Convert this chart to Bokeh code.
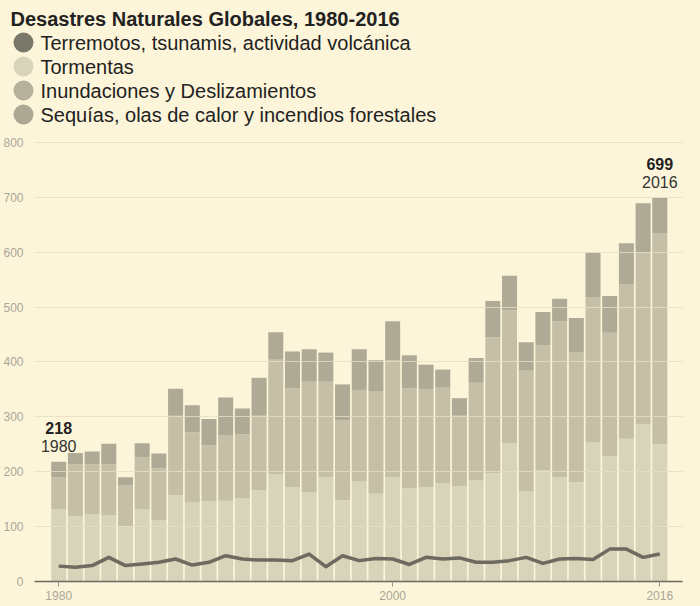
from bokeh.plotting import figure
from bokeh.layouts import column
from bokeh.models import ColumnDataSource, Range1d, FixedTicker, GlobalInlineStyleSheet
from bokeh.core.properties import value
from bokeh.embed import file_html
from bokeh.resources import INLINE

# ---------------- data ----------------
years = list(range(1980, 2017))
terremotos = [28, 26, 29, 44, 29, 32, 35, 41, 30, 35,
              47, 41, 39, 39, 38, 50, 27, 47, 38, 42,
              41, 31, 44, 41, 43, 35, 35, 38, 44, 33,
              41, 42, 40, 59, 59, 44, 50]
tormentas = [132, 119, 123, 120, 101, 131, 112, 157, 144, 146,
             147, 152, 166, 196, 172, 162, 190, 148, 182, 160,
             190, 170, 172, 179, 174, 184, 197, 252, 164, 203,
             190, 181, 253, 228, 260, 286, 250]
inundaciones = [58, 94, 90, 93, 74, 95, 94, 145, 128, 102,
                119, 116, 136, 208, 180, 203, 175, 145, 167, 186,
                213, 182, 178, 174, 128, 178, 248, 242, 220, 227,
                284, 236, 265, 225, 282, 314, 385]
sequias = [28, 21, 24, 38, 15, 26, 27, 49, 49, 48,
           69, 47, 69, 50, 67, 58, 52, 66, 74, 57,
           71, 60, 45, 33, 32, 45, 66, 63, 52, 61,
           41, 63, 81, 67, 74, 89, 64]

title = "Desastres Naturales Globales, 1980-2016"
series_names = ["Terremotos, tsunamis, actividad volcánica", "Tormentas",
                "Inundaciones y Deslizamientos", "Sequías, olas de calor y incendios forestales"]
legend_colors = ["#7a776b", "#d8d4bb", "#b5b19b", "#aca893"]
bar_colors = ["#d8d4ba", "#c4bfa6", "#aeaa95"]
line_color = "#6d6a5f"
y_ticks = [0, 100, 200, 300, 400, 500, 600, 700, 800]
x_ticks = [1980, 2000, 2016]

BG = "#fdf5d9"
FONT = "Liberation Sans"

totals = [a + b + c for a, b, c in zip(tormentas, inundaciones, sequias)]

# ---------------- header (title + legend) ----------------
head = figure(width=700, height=130, x_range=Range1d(0, 700), y_range=Range1d(130, 0),
              output_backend="svg", toolbar_location=None,
              x_axis_location=None, y_axis_location=None, min_border=0)
head.grid.visible = False
head.outline_line_color = None
head.background_fill_color = BG
head.border_fill_color = BG

head.text(x=[10], y=[18], text=[title], text_font=value(FONT), text_font_style="bold",
          text_font_size="20px", text_baseline="middle", text_color="#222222")
rows = [42 + 24 * i for i in range(len(series_names))]
head.scatter(x=[23] * len(rows), y=rows, size=20, fill_color=legend_colors, line_color=None)
head.text(x=[40] * len(rows), y=rows, text=series_names, text_font=value(FONT),
          text_font_size="20px", text_baseline="middle", text_color="#222222")

# ---------------- main chart ----------------
src = ColumnDataSource(dict(year=years, tormentas=tormentas, inundaciones=inundaciones,
                            sequias=sequias))

p = figure(width=700, height=476, x_range=Range1d(1978.55, 2017.36), y_range=Range1d(0, 821.5),
           output_backend="svg", toolbar_location=None,
           min_border_left=33, min_border_right=18, min_border_top=0, min_border_bottom=25)
p.background_fill_color = BG
p.border_fill_color = BG
p.outline_line_color = None

p.vbar_stack(["tormentas", "inundaciones", "sequias"], x="year", width=0.9,
             fill_color=bar_colors, line_color=None, source=src)
p.line(years, terremotos, line_width=3.5, color=line_color, line_join="round")

# annotations for first & last year
ann = ColumnDataSource(dict(x=[years[0], years[-1]], y=[totals[0], totals[-1]],
                            tot=[str(totals[0]), str(totals[-1])],
                            yr=[str(years[0]), str(years[-1])]))
p.text(x="x", y="y", text="tot", source=ann, text_font=value(FONT), text_font_style="bold",
       text_font_size="16px", text_align="center", text_baseline="middle",
       y_offset=-34, text_color="#222222")
p.text(x="x", y="y", text="yr", source=ann, text_font=value(FONT),
       text_font_size="16px", text_align="center", text_baseline="middle",
       y_offset=-16, text_color="#333333")

# axes
p.xgrid.visible = False
p.ygrid.ticker = FixedTicker(ticks=y_ticks)
p.ygrid.grid_line_color = "#e6dfc3"
p.ygrid.grid_line_alpha = 0.8
p.ygrid.level = "overlay"

p.yaxis.ticker = FixedTicker(ticks=y_ticks)
p.yaxis.axis_line_color = None
p.yaxis.major_tick_line_color = None
p.yaxis.minor_tick_line_color = None
p.yaxis.major_label_text_font = FONT
p.yaxis.major_label_text_font_size = "12px"
p.yaxis.major_label_text_color = "#aaa698"
p.yaxis.major_label_standoff = 5

p.xaxis.ticker = FixedTicker(ticks=x_ticks)
p.xaxis.axis_line_color = "#6b6960"
p.xaxis.axis_line_width = 1.5
p.xaxis.major_tick_in = 0
p.xaxis.major_tick_out = 5
p.xaxis.major_tick_line_color = "#999488"
p.xaxis.minor_tick_line_color = None
p.xaxis.major_label_text_font = FONT
p.xaxis.major_label_text_font_size = "12px"
p.xaxis.major_label_text_color = "#aaa698"
p.xaxis.major_label_standoff = 4

for fig in (head, p):
    if "frame_align" in fig.properties():
        fig.frame_align = False

layout = column(head, p, spacing=0,
                stylesheets=[GlobalInlineStyleSheet(css="html, body { background-color: #fdf5d9; }")])

open("out.html", "w").write(file_html(layout, INLINE))
